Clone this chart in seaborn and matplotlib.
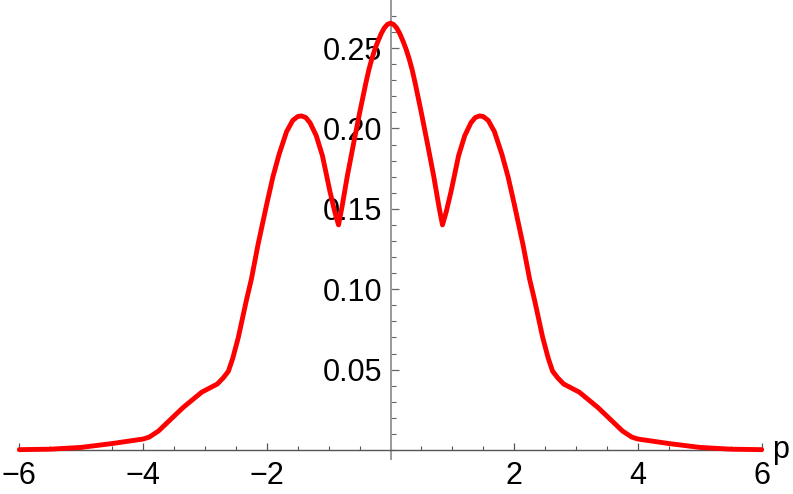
import numpy as np
import pandas as pd
import matplotlib
matplotlib.use("Agg")
import matplotlib.pyplot as plt
import seaborn as sns
from matplotlib.ticker import MultipleLocator, FixedLocator

# ---- data ----
p_values = [-6.0, -5.5, -5.0, -4.5, -4.0, -3.9, -3.75, -3.5, -3.35, -3.05, -2.8, -2.7,
            -2.62, -2.55, -2.46, -2.33, -2.25, -2.14, -2.0, -1.9, -1.8, -1.68, -1.58, -1.5,
            -1.44, -1.37, -1.3, -1.2, -1.1, -0.98, -0.9, -0.84, -0.78, -0.7, -0.6, -0.5,
            -0.4, -0.35, -0.3, -0.25, -0.2, -0.15, -0.1, -0.05, 0.0,
            0.05, 0.1, 0.15, 0.2, 0.25, 0.3, 0.35, 0.4, 0.5, 0.6, 0.7, 0.78, 0.84, 0.9, 0.98,
            1.1, 1.2, 1.3, 1.37, 1.44, 1.5, 1.58, 1.68, 1.8, 1.9, 2.0, 2.14, 2.25, 2.33, 2.46,
            2.55, 2.62, 2.7, 2.8, 3.05, 3.35, 3.5, 3.75, 3.9, 4.0, 4.5, 5.0, 5.5, 6.0]
density = [0.0002, 0.0005, 0.0016, 0.0040, 0.0068, 0.0080, 0.0118, 0.0210, 0.0265, 0.0360, 0.0410, 0.0450,
           0.0490, 0.0570, 0.0700, 0.0930, 0.1060, 0.1280, 0.1530, 0.1700, 0.1840, 0.1980, 0.2050, 0.2074,
           0.2078, 0.2068, 0.2035, 0.1955, 0.1830, 0.1610, 0.1480, 0.1400, 0.1520, 0.1700, 0.1900, 0.2095,
           0.2280, 0.2365, 0.2435, 0.2495, 0.2545, 0.2590, 0.2625, 0.2647, 0.2655,
           0.2647, 0.2625, 0.2590, 0.2545, 0.2495, 0.2435, 0.2365, 0.2280, 0.2095, 0.1900, 0.1700, 0.1520, 0.1400, 0.1480, 0.1610,
           0.1830, 0.1955, 0.2035, 0.2068, 0.2078, 0.2074, 0.2050, 0.1980, 0.1840, 0.1700, 0.1530, 0.1280, 0.1060, 0.0930, 0.0700,
           0.0570, 0.0490, 0.0450, 0.0410, 0.0360, 0.0265, 0.0210, 0.0118, 0.0080, 0.0068, 0.0040, 0.0016, 0.0005, 0.0002]

x_major = [-6, -4, -2, 2, 4, 6]
x_labels = ["\u22126", "\u22124", "\u22122", "2", "4", "6"]
y_major = [0.05, 0.10, 0.15, 0.20, 0.25]
y_labels = ["0.05", "0.10", "0.15", "0.20", "0.25"]

df = pd.DataFrame({"p": p_values, "density": density})

sns.set_style("white")
plt.rcParams["font.family"] = ["Liberation Sans", "DejaVu Sans"]

fig = plt.figure(figsize=(7.93, 4.94), dpi=100)
W, H = 793, 494
left_px, right_px = 19.3, 761.7
top_px, bottom_px = 0.0, 459.3
ax = fig.add_axes([left_px / W, 1 - bottom_px / H, (right_px - left_px) / W, (bottom_px - top_px) / H])

sns.lineplot(data=df, x="p", y="density", ax=ax, color="#ff0000", linewidth=3.5,
             zorder=3, solid_joinstyle="round", solid_capstyle="round", clip_on=False)

ax.set_xlim(-6, 6)
ax.set_ylim(-0.0058, 0.2799)

for s in ["top", "right"]:
    ax.spines[s].set_visible(False)
ax.spines["left"].set_position(("data", 0))
ax.spines["bottom"].set_position(("data", 0))
ax.spines["left"].set_color("#9a9a9a")
ax.spines["bottom"].set_color("#555555")
ax.spines["left"].set_linewidth(1.4)
ax.spines["bottom"].set_linewidth(1.0)

ax.xaxis.set_major_locator(FixedLocator(x_major))
ax.set_xticklabels(x_labels)
ax.xaxis.set_minor_locator(MultipleLocator(0.5))
ax.yaxis.set_major_locator(FixedLocator(y_major))
ax.set_yticklabels(y_labels)
ax.yaxis.set_minor_locator(MultipleLocator(0.01))

ax.tick_params(axis="x", which="both", bottom=True, top=False)
ax.tick_params(axis="y", which="both", left=True, right=False)
ax.tick_params(axis="x", which="major", direction="in", length=5.0, width=0.9, color="#555555",
               labelsize=22, pad=8, labelcolor="black")
ax.tick_params(axis="x", which="minor", direction="in", length=3.0, width=0.8, color="#555555")
ax.tick_params(axis="y", which="major", direction="in", length=6.0, width=0.9, color="#666666",
               labelsize=22, pad=6, labelcolor="black")
ax.tick_params(axis="y", which="minor", direction="in", length=3.8, width=0.8, color="#666666")

ax.set_xlabel("")
ax.set_ylabel("")
ax.annotate("p", xy=(6, 0), xytext=(10, -8), textcoords="offset pixels",
            ha="left", va="baseline", fontsize=22, color="black", annotation_clip=False)

fig.savefig("out.png", dpi=100)
